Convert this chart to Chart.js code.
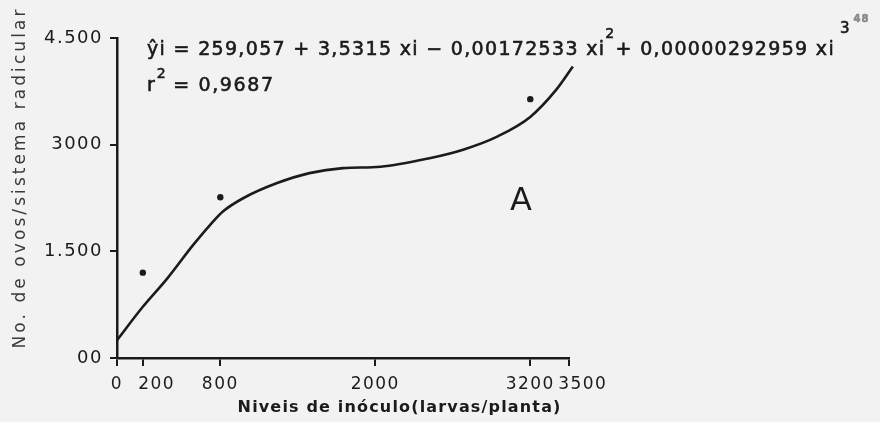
<!DOCTYPE html>
<html>
<head>
<meta charset="utf-8">
<script src="https://cdn.jsdelivr.net/npm/chart.js@4/dist/chart.umd.min.js"></script>
<style>
  html, body { margin: 0; padding: 0; background: #f2f2f2; }
  #wrap { position: relative; width: 880px; height: 422px; background: #f2f2f2; }
  canvas { display: block; }
</style>
</head>
<body>
<div id="wrap"><canvas id="c" width="880" height="422"></canvas></div>
<script>
// ---- data ----
const inoculumLevels = [200, 800, 3200];          // observed points (x)
const eggCounts      = [1200, 2260, 3640];        // observed points (y)

// fitted curve
const curveX = [0, 200, 390, 590, 720, 820, 980, 1240, 1490, 1750, 2040, 2420, 2680, 2940, 3200, 3400, 3530];
const curveY = [250, 720, 1120, 1590, 1870, 2060, 2250, 2460, 2600, 2670, 2690, 2810, 2930, 3110, 3390, 3770, 4100];

const xTickValues = [0, 200, 800, 2000, 3200, 3500];
const xTickLabels = ['0', '200', '800', '2000', '3200', '3500'];
const yTickValues = [0, 1500, 3000, 4500];
const yTickLabels = ['00', '1.500', '3000', '4.500'];

const xTitle = 'Niveis de inóculo(larvas/planta)';
const yTitle = 'No. de ovos/sistema radicular';
const panelLetter = 'A';
const eqMainA = 'ŷi = 259,057 + 3,5315 xi − 0,00172533 xi';
const eqSup2  = '2';
const eqMainB = '+ 0,00000292959 xi';
const eqSup3  = '3';
const eqSupExtra = '48';
const r2Label = 'r';
const r2Sup = '2';
const r2Value = ' = 0,9687';

const ink = '#1b1b1b';
const FONT = '"DejaVu Sans", "Liberation Sans", sans-serif';

function fitSpacing(ctx, parts, target) {
  ctx.letterSpacing = '0px';
  let w = 0, n = 0;
  parts.forEach(p => { ctx.font = p.font; w += ctx.measureText(p.t).width; n += [...p.t].length; });
  return (target - w) / n;
}
function drawParts(ctx, parts, x0, base, sp) {
  let x = x0;
  parts.forEach(p => {
    ctx.letterSpacing = '0px';
    ctx.font = p.font;
    const nat = ctx.measureText(p.t).width;
    ctx.letterSpacing = sp + 'px';
    ctx.fillStyle = p.color || ink;
    ctx.strokeStyle = p.color || ink;
    ctx.lineWidth = 0.6;
    ctx.fillText(p.t, x, base - (p.rise || 0));
    ctx.strokeText(p.t, x, base - (p.rise || 0));
    x += nat + sp * [...p.t].length;
  });
  return x;
}

const textPlugin = {
  id: 'texts',
  beforeDraw(chart) {
    chart.ctx.letterSpacing = '1.5px';
  },
  afterDraw(chart) {
    const ctx = chart.ctx;
    ctx.save();
    ctx.textAlign = 'left';
    ctx.textBaseline = 'alphabetic';
    const big = '19px ' + FONT, sup = '14px ' + FONT;

    // equation
    const eqParts = [
      { t: eqMainA, font: big },
      { t: eqSup2, font: sup, rise: 17 },
      { t: eqMainB, font: big }
    ];
    const sp = fitSpacing(ctx, eqParts, 835 - 147);
    let xe = drawParts(ctx, eqParts, 147, 55, sp);
    xe = drawParts(ctx, [{ t: eqSup3, font: '15px ' + FONT, rise: 22 }], xe + 5, 55, 0);
    drawParts(ctx, [{ t: eqSupExtra, font: 'bold 10px ' + FONT, rise: 33, color: '#8a8a8a' }], xe + 4, 55, 1);

    // r^2
    let xr = drawParts(ctx, [{ t: r2Label, font: big }], 147, 91, 0);
    xr = drawParts(ctx, [{ t: r2Sup, font: sup, rise: 13 }], xr + 2, 91, 0);
    drawParts(ctx, [{ t: r2Value, font: big }], xr, 91, 1.6);

    // panel letter
    ctx.letterSpacing = '0px';
    ctx.font = '32px ' + FONT;
    ctx.fillStyle = ink;
    ctx.fillText(panelLetter, 510, 210);

    // x title
    ctx.textAlign = 'center';
    ctx.textBaseline = 'middle';
    ctx.font = 'bold 16px ' + FONT;
    ctx.letterSpacing = '0px';
    let w = ctx.measureText(xTitle).width;
    let s = (324 - w) / [...xTitle].length;
    ctx.letterSpacing = s + 'px';
    ctx.fillText(xTitle, 399 + s / 2, 408);

    // y title
    ctx.save();
    ctx.translate(21, 179);
    ctx.rotate(-Math.PI / 2);
    ctx.font = '17px ' + FONT;
    ctx.fillStyle = '#3a3a3a';
    ctx.letterSpacing = '0px';
    w = ctx.measureText(yTitle).width;
    s = (342 - w) / [...yTitle].length;
    ctx.letterSpacing = s + 'px';
    ctx.fillText(yTitle, s / 2, 0);
    ctx.restore();

    ctx.restore();
    ctx.letterSpacing = '0px';
  }
};

const curveData = curveX.map((x, i) => ({ x, y: curveY[i] }));
const pointData = inoculumLevels.map((x, i) => ({ x, y: eggCounts[i] }));
// hand-lettered labels sit a little right of their ticks for 200 and 3500
const xLabelShift = { 200: '    ', 3500: '    ' };

new Chart(document.getElementById('c'), {
  type: 'line',
  data: {
    datasets: [
      {
        data: curveData,
        borderColor: ink,
        borderWidth: 2.6,
        pointRadius: 0,
        cubicInterpolationMode: 'monotone',
        fill: false,
        clip: false
      },
      {
        data: pointData,
        showLine: false,
        pointRadius: 3.2,
        pointBackgroundColor: ink,
        pointBorderWidth: 0
      }
    ]
  },
  options: {
    responsive: false,
    devicePixelRatio: 1,
    animation: false,
    events: [],
    layout: { padding: { left: 0, right: 311, top: 38, bottom: 0 } },
    plugins: { legend: { display: false }, tooltip: { enabled: false } },
    scales: {
      x: {
        type: 'linear',
        min: 0,
        max: 3500,
        afterBuildTicks: sc => { sc.ticks = xTickValues.map(v => ({ value: v })); },
        afterFit: sc => { sc.height = 64; },
        ticks: {
          autoSkip: false,
          maxRotation: 0,
          color: ink,
          padding: 8,
          font: { family: FONT, size: 17 },
          callback: (v) => (xLabelShift[v] || '') + xTickLabels[xTickValues.indexOf(v)]
        },
        grid: { drawOnChartArea: false, drawTicks: true, tickLength: 8, color: ink, lineWidth: 2 },
        border: { display: true, color: ink, width: 2.5 }
      },
      y: {
        type: 'linear',
        min: 0,
        max: 4500,
        afterBuildTicks: sc => { sc.ticks = yTickValues.map(v => ({ value: v })); },
        afterFit: sc => { sc.width = 117; },
        ticks: {
          color: ink,
          padding: 7,
          font: { family: FONT, size: 18 },
          callback: (v) => yTickLabels[yTickValues.indexOf(v)]
        },
        grid: { drawOnChartArea: false, drawTicks: true, tickLength: 7, color: ink, lineWidth: 2 },
        border: { display: true, color: ink, width: 2.5 }
      }
    }
  },
  plugins: [textPlugin]
});
</script>
</body>
</html>
